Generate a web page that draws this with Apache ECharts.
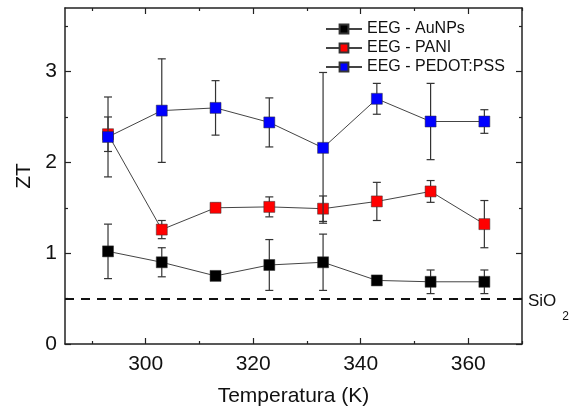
<!DOCTYPE html>
<html><head><meta charset="utf-8">
<script src="https://cdn.jsdelivr.net/npm/echarts@6/dist/echarts.min.js"></script>
<style>html,body{margin:0;padding:0;background:#fff}#c{width:583px;height:412px}</style>
</head><body><div id="c"></div>
<script>
const temps = [293, 303, 313, 323, 333, 343, 353, 363];
const auValues = [1.02, 0.90, 0.75, 0.87, 0.90, 0.70, 0.685, 0.685];
const auErrors = [0.30, 0.16, 0.03, 0.28, 0.31, 0.03, 0.13, 0.13];
const paniValues = [2.31, 1.26, 1.50, 1.51, 1.49, 1.57, 1.68, 1.32];
const paniErrors = [0.19, 0.10, 0.05, 0.11, 0.14, 0.21, 0.12, 0.26];
const pedotValues = [2.28, 2.57, 2.60, 2.44, 2.16, 2.70, 2.45, 2.45];
const pedotErrors = [0.44, 0.57, 0.30, 0.27, 0.83, 0.17, 0.42, 0.13];
const seriesNames = ['EEG - AuNPs', 'EEG - PANI', 'EEG - PEDOT:PSS'];
const seriesColors = ['#000000', '#ff0000', '#0000ff'];
const xMajorTicks = [300, 320, 340, 360];
const xMinorTicks = [290, 310, 330, 350, 370];
const yMajorTicks = [0, 1, 2, 3];
const yMinorTicks = [0.5, 1.5, 2.5, 3.5];
const sio2Level = 0.5;

const FONT = 'Liberation Sans, Arial, sans-serif';
const AX = '#222';
const xRange = {min: 285, max: 370};
const yRange = {min: 0, max: 3.7};

function xAx(pos, ticks, len, labels, line) {
  return {
    type: 'value', position: pos, ...xRange,
    axisLine: {show: line, onZero: false, lineStyle: {color: AX, width: 1.5}},
    axisTick: {show: true, inside: true, length: len, customValues: ticks, lineStyle: {color: AX, width: 1.2}},
    axisLabel: labels ? {show: true, customValues: xMajorTicks, color: '#111', fontSize: 21, fontFamily: FONT, margin: 10} : {show: false},
    splitLine: {show: false}
  };
}
function yAx(pos, ticks, len, labels, line) {
  return {
    type: 'value', position: pos, ...yRange,
    axisLine: {show: line, onZero: false, lineStyle: {color: AX, width: 1.5}},
    axisTick: {show: true, inside: true, length: len, customValues: ticks, lineStyle: {color: AX, width: 1.2}},
    axisLabel: labels ? {show: true, customValues: yMajorTicks, color: '#111', fontSize: 21, fontFamily: FONT, margin: 8} : {show: false},
    splitLine: {show: false}
  };
}

const xAxes = [
  xAx('bottom', xMajorTicks, 6, true, true),
  xAx('bottom', xMinorTicks, 3, false, false),
  xAx('top', xMajorTicks, 6, false, true),
  xAx('top', xMinorTicks, 3, false, false)
];
xAxes[0].name = 'Temperatura (K)';
xAxes[0].nameLocation = 'middle';
xAxes[0].nameGap = 42;
xAxes[0].nameTextStyle = {fontSize: 21, fontFamily: FONT, color: '#111'};

const yAxes = [
  yAx('left', yMajorTicks, 6, true, true),
  yAx('left', yMinorTicks, 3, false, false),
  yAx('right', yMajorTicks, 6, false, true),
  yAx('right', yMinorTicks, 3, false, false)
];
yAxes[0].name = 'ZT';
yAxes[0].nameLocation = 'middle';
yAxes[0].nameGap = 30;
yAxes[0].nameTextStyle = {fontSize: 21, fontFamily: FONT, color: '#111'};

const valueSets = [auValues, paniValues, pedotValues];
const errorSets = [auErrors, paniErrors, pedotErrors];

const series = [];
valueSets.forEach((vals, i) => {
  series.push({
    type: 'custom', name: seriesNames[i] + ' err', xAxisIndex: 0, yAxisIndex: 0, z: 1 + i * 2,
    silent: true,
    data: temps.map((t, k) => [t, vals[k], errorSets[i][k]]),
    renderItem: function (params, api) {
      const x = api.value(0), v = api.value(1), e = api.value(2);
      const top = api.coord([x, v + e]);
      const bot = api.coord([x, v - e]);
      const w = 4;
      const st = {stroke: '#333', lineWidth: 1.2};
      return {type: 'group', children: [
        {type: 'line', shape: {x1: top[0], y1: top[1], x2: bot[0], y2: bot[1]}, style: st},
        {type: 'line', shape: {x1: top[0] - w, y1: top[1], x2: top[0] + w, y2: top[1]}, style: st},
        {type: 'line', shape: {x1: bot[0] - w, y1: bot[1], x2: bot[0] + w, y2: bot[1]}, style: st}
      ]};
    }
  });
  const s = {
    type: 'line', name: seriesNames[i], xAxisIndex: 0, yAxisIndex: 0, z: 2 + i * 2,
    data: temps.map((t, k) => [t, vals[k]]),
    symbol: 'rect', symbolSize: 11,
    itemStyle: {color: seriesColors[i], borderColor: '#333', borderWidth: 0.5},
    lineStyle: {color: '#444', width: 1},
    emphasis: {disabled: true}
  };
  if (i === 0) {
    s.markLine = {
      silent: true, symbol: 'none',
      lineStyle: {color: '#111', type: [9, 7], width: 2},
      label: {
        show: true, position: 'end', distance: 6,
        padding: [18, 0, 0, 0],
        formatter: '{a|SiO}{b|2}',
        rich: {
          a: {fontSize: 17, fontFamily: FONT, color: '#111', lineHeight: 30, verticalAlign: 'top'},
          b: {fontSize: 12, fontFamily: FONT, color: '#111', lineHeight: 30, verticalAlign: 'bottom', padding: [0, 0, 0, 6]}
        }
      },
      data: [{yAxis: sio2Level}]
    };
  }
  series.push(s);
});

const chart = echarts.init(document.getElementById('c'), null, {renderer: 'canvas'});
chart.setOption({
  animation: false,
  backgroundColor: '#fff',
  grid: {left: 65, right: 61, top: 8, bottom: 66},
  legend: {
    data: seriesNames, orient: 'vertical', left: 320, top: 16,
    itemWidth: 36, itemHeight: 11, itemGap: 3,
    textStyle: {fontSize: 16, fontFamily: FONT, color: '#111'}
  },
  xAxis: xAxes,
  yAxis: yAxes,
  series: series
});
</script></body></html>
